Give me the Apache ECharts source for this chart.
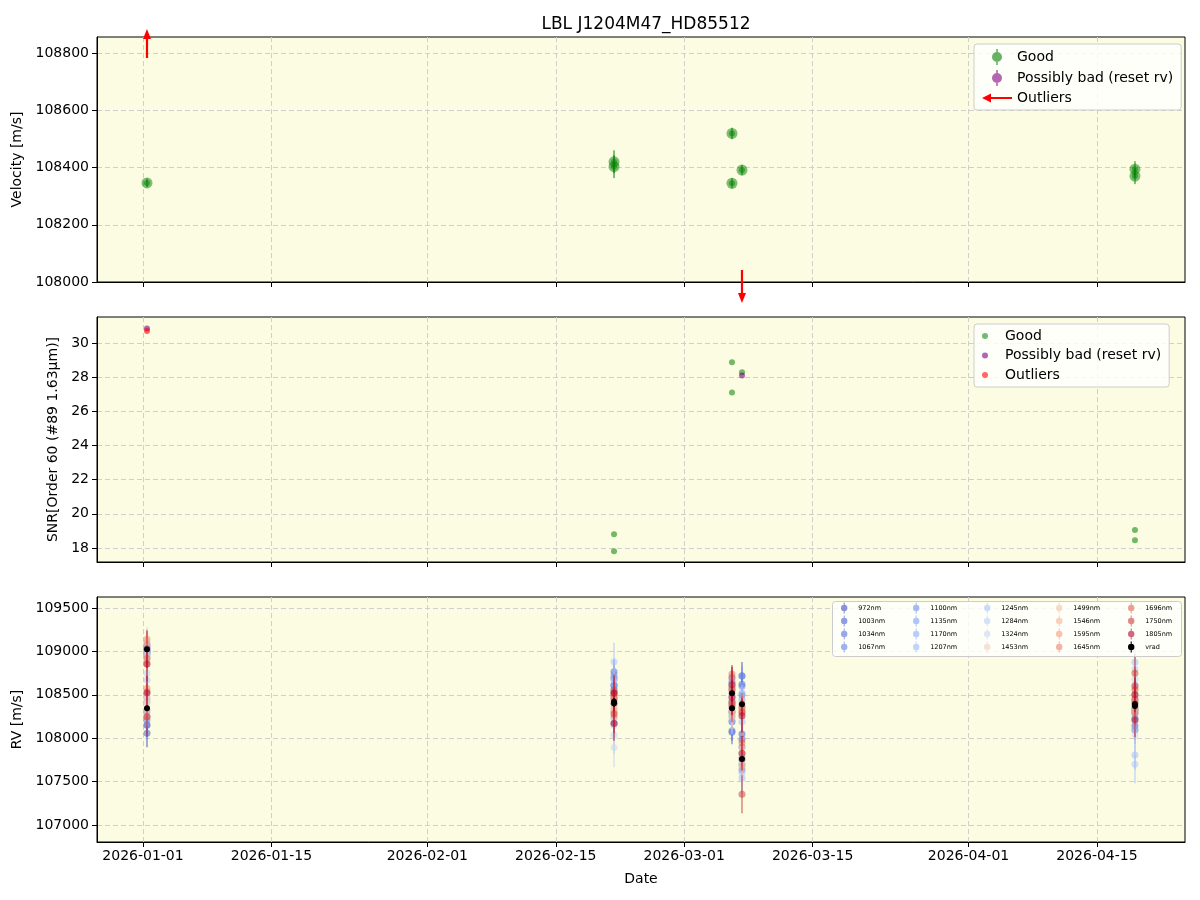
<!DOCTYPE html>
<html>
<head>
<meta charset="utf-8">
<title>LBL J1204M47_HD85512</title>
<script src="https://cdn.jsdelivr.net/npm/echarts@6/dist/echarts.min.js"></script>
<style>
  html, body { margin: 0; padding: 0; background: #fff; }
  #chart { width: 1200px; height: 900px; }
</style>
</head>
<body>
<div id="chart"></div>
<script>
var chartTitle = 'LBL J1204M47_HD85512';

// shared date axis
var xMin = '2025-12-26 23:40';
var xMax = '2026-04-24 14:20';
var dateTicks = ['2026-01-01', '2026-01-15', '2026-02-01', '2026-02-15', '2026-03-01', '2026-03-15', '2026-04-01', '2026-04-15'];

// panel 1: velocity
var velRange = [108000, 108856];
var velTicks = [108000, 108200, 108400, 108600, 108800];
var velGoodTime = ['2026-01-01 10:28', '2026-02-21 08:24', '2026-02-21 08:24', '2026-03-06 05:02', '2026-03-06 05:02', '2026-03-07 07:12', '2026-04-19 03:22', '2026-04-19 03:22'];
var velGood = [108346, 108420, 108403, 108519, 108345, 108391, 108394, 108370];
var velGoodErr = [15, 40, 40, 20, 18, 18, 28, 28];
var velOutTime = ['2026-01-01 10:28', '2026-03-07 07:12'];
var velOut = [109024, 107760];

// panel 2: SNR
var snrRange = [17.18, 31.52];
var snrTicks = [18, 20, 22, 24, 26, 28, 30];
var snrGoodTime = ['2026-02-21 08:24', '2026-02-21 08:24', '2026-03-06 05:02', '2026-03-06 05:02', '2026-03-07 07:12', '2026-04-19 03:22', '2026-04-19 03:22'];
var snrGood = [18.80, 17.81, 28.87, 27.10, 28.28, 19.05, 18.45];
var snrBadTime = ['2026-01-01 10:28', '2026-03-07 07:12'];
var snrBad = [30.85, 28.10];
var snrOutTime = ['2026-01-01 10:28'];
var snrOut = [30.70];

// panel 3: per-band RV
var rvRange = [106804, 109627];
var rvTicks = [107000, 107500, 108000, 108500, 109000, 109500];
var obsTime = ['2026-01-01 10:28', '2026-01-01 10:28', '2026-02-21 08:24', '2026-02-21 08:24', '2026-03-06 05:02', '2026-03-06 05:02', '2026-03-07 07:12', '2026-03-07 07:12', '2026-04-19 03:22', '2026-04-19 03:22'];
var vrad = [109024, 108346, 108420, 108403, 108519, 108345, 108391, 107760, 108394, 108370];
var vradErr = [20, 15, 40, 40, 20, 18, 18, 25, 28, 28];

var bandNames = ['972nm', '1003nm', '1034nm', '1067nm', '1100nm', '1135nm', '1170nm', '1207nm', '1245nm', '1284nm', '1324nm', '1453nm', '1499nm', '1546nm', '1595nm', '1645nm', '1696nm', '1750nm', '1805nm'];
var bandColors = ['#3b4cc0', '#465ccd', '#526ddb', '#5f7ee7', '#6c8def', '#7a9df8', '#88abfb', '#98b8fe', '#a7c4fc', '#b7cef8', '#c7d6ef', '#edcfbf', '#f4c1aa', '#f6af93', '#f3997c', '#ec8065', '#dd614f', '#ca383a', '#b40426'];
var bandErr = [160, 140, 120, 110, 110, 120, 130, 170, 220, 220, 230, 180, 150, 110, 100, 90, 100, 220, 200];

var rv972  = [109074, 108056, 108613, 108172, 108600, 108190, 108717, 108048, 108141, 108094];
var rv1003 = [108978, 108152, 108766, 108560, 108700, 108070, 108621, 107987, 108325, 108230];
var rv1034 = [109000, 108210, 108500, 108690, 108087, 108306, 108498, 107634, 108287, 108350];
var rv1067 = [109050, 108150, 108400, 108600, 108650, 108421, 108600, 107900, 108450, 108410];
var rv1100 = [108990, 108305, 108728, 108400, 108480, 108250, 108720, 107750, 108380, 108300];
var rv1135 = [109020, 108250, 108450, 108520, 108560, 108380, 108450, 107700, 108613, 108500];
var rv1170 = [108950, 108420, 108620, 108700, 108632, 108300, 108520, 107780, 108500, 108200];
var rv1207 = [109010, 108460, 108670, 108229, 108430, 108200, 108190, 107538, 108874, 107806];
var rv1245 = [108900, 108670, 108881, 108300, 108520, 108350, 108306, 107600, 108794, 107700];
var rv1284 = [108980, 108748, 108037, 108150, 108478, 108400, 108250, 107691, 108679, 108100];
var rv1324 = [109050, 108520, 107894, 108480, 108600, 108280, 108380, 107820, 108037, 108600];
var rv1453 = [108920, 108409, 108363, 108420, 108550, 108320, 108330, 107740, 108420, 108370];
var rv1499 = [108960, 108460, 108478, 108350, 108480, 108248, 108290, 107826, 108478, 108400];
var rv1546 = [109100, 108330, 108440, 108300, 108594, 108383, 108356, 107902, 108555, 108320];
var rv1595 = [108855, 108250, 108325, 108250, 108520, 108300, 108320, 107680, 108330, 108290];
var rv1645 = [109139, 108575, 108480, 108400, 108690, 108420, 108400, 107760, 108400, 108450];
var rv1696 = [108920, 108536, 108547, 108460, 108740, 108360, 108356, 107950, 108440, 108560];
var rv1750 = [109030, 108248, 108279, 108520, 108560, 108400, 108300, 107354, 108748, 108600];
var rv1805 = [108855, 108520, 108520, 108170, 108620, 108470, 108260, 107826, 108210, 108500];
var bandRv = [rv972, rv1003, rv1034, rv1067, rv1100, rv1135, rv1170, rv1207, rv1245, rv1284, rv1324, rv1453, rv1499, rv1546, rv1595, rv1645, rv1696, rv1750, rv1805];

function toTime(s) {
  var p = s.split(/[- :]/).map(Number);
  return new Date(p[0], p[1] - 1, p[2], p[3] || 0, p[4] || 0).getTime();
}
function zip3(times, vals, errs) {
  return times.map(function (t, i) {
    return [toTime(t), vals[i], Array.isArray(errs) ? errs[i] : errs];
  });
}

var GREEN = '#008000', PURPLE = '#800080', RED = '#ff0000';
var FONT = 'DejaVu Sans';
var ERR_ICON = 'path://M3.4,0H4.6V12H3.4Z M0.5,6A3.5,3.5 0 1,1 7.5,6A3.5,3.5 0 1,1 0.5,6Z';
var ERR_ICON_BIG = 'path://M5.2,0H6.8V16H5.2Z M1,8A5,5 0 1,1 11,8A5,5 0 1,1 1,8Z';
var ARROW_ICON = 'path://M0,8L9,3.5L9,7L30,7L30,9L9,9L9,12.5Z';

// errorbar point drawn through the axis scales
function errRender(color, r, lw, op, inner) {
  return function (params, api) {
    var x = api.value(0), y = api.value(1), e = api.value(2);
    var c = api.coord([x, y]);
    var hi = api.coord([x, y + e]), lo = api.coord([x, y - e]);
    var kids = [
      { type: 'line', shape: { x1: c[0], y1: hi[1], x2: c[0], y2: lo[1] }, style: { stroke: color, lineWidth: lw, opacity: op } },
      { type: 'circle', shape: { cx: c[0], cy: c[1], r: r }, style: { fill: color, opacity: op } }
    ];
    if (inner) {
      kids.push({ type: 'circle', shape: { cx: c[0], cy: c[1], r: inner }, style: { fill: color, opacity: op } });
    }
    return { type: 'group', children: kids };
  };
}

function dotRender(color, r, op) {
  return function (params, api) {
    var c = api.coord([api.value(0), api.value(1)]);
    return { type: 'circle', shape: { cx: c[0], cy: c[1], r: r }, style: { fill: color, opacity: op } };
  };
}

// outliers beyond the y range get an arrow at the edge of the panel
function arrowRender(params, api) {
  var cs = params.coordSys;
  var c = api.coord([api.value(0), api.value(1)]);
  var x = c[0];
  var top = cs.y, bot = cs.y + cs.height;
  var up = c[1] < top;
  var s0, s1, tip;
  if (up) { s0 = top + 21; s1 = top + 2; tip = top - 8; }
  else { s0 = bot - 12; s1 = bot + 11; tip = bot + 21; }
  return {
    type: 'group',
    children: [
      { type: 'line', shape: { x1: x, y1: s0, x2: x, y2: s1 }, style: { stroke: RED, lineWidth: 2.2 } },
      { type: 'polygon', shape: { points: [[x - 4, s1], [x + 4, s1], [x, tip]] }, style: { fill: RED } }
    ]
  };
}

var grids = [
  { left: 97, right: 15, top: 37, height: 245 },
  { left: 97, right: 15, top: 317, height: 245 },
  { left: 97, right: 15, top: 597, height: 245 }
];
grids.forEach(function (g) {
  g.show = true;
  g.backgroundColor = '#fcfce2';
  g.borderColor = '#000';
  g.borderWidth = 1;
});

var gridLine = { show: true, lineStyle: { color: '#cfcfcf', width: 1, type: [5, 3] } };

function xAxisFor(i, showLabels) {
  var ticks = dateTicks.map(toTime);
  return {
    type: 'value', gridIndex: i, min: toTime(xMin), max: toTime(xMax),
    axisLine: { show: true, onZero: false, lineStyle: { color: '#000', width: 1 } },
    axisTick: { show: true, length: 5, customValues: ticks, lineStyle: { color: '#000' } },
    axisLabel: {
      show: showLabels, customValues: ticks, color: '#000', fontSize: 14, fontFamily: FONT, margin: 7,
      formatter: function (v) { return echarts.time.format(v, '{yyyy}-{MM}-{dd}', false); }
    },
    splitLine: gridLine,
    name: showLabels ? 'Date' : '', nameLocation: 'middle', nameGap: 30,
    nameTextStyle: { color: '#000', fontSize: 14, fontFamily: FONT }
  };
}

function yAxisFor(i, range, ticks, name, gap) {
  return {
    type: 'value', gridIndex: i, min: range[0], max: range[1],
    axisLine: { show: true, lineStyle: { color: '#000', width: 1 } },
    axisTick: { show: true, length: 5, customValues: ticks, lineStyle: { color: '#000' } },
    axisLabel: {
      customValues: ticks, color: '#000', fontSize: 14, fontFamily: FONT, margin: 8,
      formatter: function (v) { return String(v); }
    },
    splitLine: gridLine,
    name: name, nameLocation: 'middle', nameGap: gap, nameRotate: 90,
    nameTextStyle: { color: '#000', fontSize: 14, fontFamily: FONT }
  };
}

var series = [
  // panel 1
  { name: 'Good', type: 'custom', xAxisIndex: 0, yAxisIndex: 0, itemStyle: { color: GREEN, opacity: 0.6 },
    data: zip3(velGoodTime, velGood, velGoodErr), renderItem: errRender(GREEN, 5.5, 2, 0.5, 3) },
  { name: 'Possibly bad (reset rv)', type: 'custom', xAxisIndex: 0, yAxisIndex: 0, itemStyle: { color: PURPLE, opacity: 0.6 },
    data: [], renderItem: errRender(PURPLE, 5.5, 2, 0.5, 3) },
  { name: 'Outliers', type: 'custom', xAxisIndex: 0, yAxisIndex: 0, itemStyle: { color: RED },
    data: zip3(velOutTime, velOut, 0), renderItem: arrowRender },
  // panel 2
  { name: 'Good', type: 'custom', xAxisIndex: 1, yAxisIndex: 1, itemStyle: { color: GREEN, opacity: 0.6 },
    data: zip3(snrGoodTime, snrGood, 0), renderItem: dotRender(GREEN, 3, 0.55) },
  { name: 'Possibly bad (reset rv)', type: 'custom', xAxisIndex: 1, yAxisIndex: 1, itemStyle: { color: PURPLE, opacity: 0.6 },
    data: zip3(snrBadTime, snrBad, 0), renderItem: dotRender(PURPLE, 3, 0.6) },
  { name: 'Outliers', type: 'custom', xAxisIndex: 1, yAxisIndex: 1, itemStyle: { color: RED, opacity: 0.6 },
    data: zip3(snrOutTime, snrOut, 0), renderItem: dotRender(RED, 3, 0.6) }
];

bandNames.forEach(function (nm, k) {
  series.push({
    name: nm, type: 'custom', xAxisIndex: 2, yAxisIndex: 2,
    itemStyle: { color: bandColors[k], opacity: 0.55 },
    data: zip3(obsTime, bandRv[k], bandErr[k]),
    renderItem: errRender(bandColors[k], 3.5, 1.8, 0.5)
  });
});
series.push({
  name: 'vrad', type: 'custom', xAxisIndex: 2, yAxisIndex: 2,
  itemStyle: { color: '#000' },
  data: zip3(obsTime, vrad, vradErr),
  renderItem: errRender('#000', 3, 1.5, 1)
});

function topLegend(top, panel) {
  var items = panel === 1 ? [
    { name: 'Good', icon: ERR_ICON_BIG, itemStyle: { color: GREEN, opacity: 0.6 } },
    { name: 'Possibly bad (reset rv)', icon: ERR_ICON_BIG, itemStyle: { color: PURPLE, opacity: 0.6 } },
    { name: 'Outliers', icon: ARROW_ICON, itemStyle: { color: RED, opacity: 1 } }
  ] : [
    { name: 'Good', icon: 'circle', itemStyle: { color: GREEN, opacity: 0.55 } },
    { name: 'Possibly bad (reset rv)', icon: 'circle', itemStyle: { color: PURPLE, opacity: 0.6 } },
    { name: 'Outliers', icon: 'circle', itemStyle: { color: RED, opacity: 0.6 } }
  ];
  return {
    orient: 'vertical', left: 974, top: top,
    padding: panel === 1 ? [5, 8, 5, 8] : [5, 8, 5, 8],
    itemGap: panel === 1 ? 5 : 5.5, itemWidth: 30, itemHeight: panel === 1 ? 16 : 6,
    backgroundColor: 'rgba(255,255,255,0.8)', borderColor: '#cccccc', borderWidth: 1, borderRadius: 3,
    textStyle: { color: '#000', fontSize: 14, fontFamily: FONT },
    data: items
  };
}

var legends = [topLegend(44, 1), topLegend(324, 2)];

// per-band legend: five columns of four, column-major like the original
var colLeft = [841, 913, 984, 1056, 1128];
var allNames = bandNames.concat(['vrad']);
var allColors = bandColors.concat(['#000']);
for (var c = 0; c < 5; c++) {
  var items = [];
  for (var r = 0; r < 4; r++) {
    var k = c * 4 + r;
    items.push({ name: allNames[k], icon: ERR_ICON, itemStyle: { color: allColors[k], opacity: k === 19 ? 1 : 0.6 } });
  }
  legends.push({
    orient: 'vertical', left: colLeft[c], top: 602.5, padding: 0,
    itemGap: 2, itemWidth: 18, itemHeight: 11,
    textStyle: { color: '#000', fontSize: 6.5, fontFamily: FONT },
    data: items
  });
}

var chart = echarts.init(document.getElementById('chart'), null, { renderer: 'canvas' });
chart.setOption({
  animation: false,
  backgroundColor: '#ffffff',
  title: {
    text: chartTitle, left: 641, top: 11, textAlign: 'center',
    textStyle: { color: '#000', fontSize: 17, fontWeight: 'normal', fontFamily: FONT }
  },
  grid: grids,
  xAxis: [xAxisFor(0, false), xAxisFor(1, false), xAxisFor(2, true)],
  yAxis: [
    yAxisFor(0, velRange, velTicks, 'Velocity [m/s]', 60),
    yAxisFor(1, snrRange, snrTicks, 'SNR[Order 60 (#89 1.63μm)]', 32),
    yAxisFor(2, rvRange, rvTicks, 'RV [m/s]', 60)
  ],
  graphic: [{
    type: 'rect', left: 832, top: 601, z: 3,
    shape: { width: 349, height: 55, r: 3 },
    style: { fill: 'rgba(255,255,255,0.8)', stroke: '#cccccc', lineWidth: 1 }
  }],
  legend: legends,
  series: series
});
</script>
</body>
</html>
